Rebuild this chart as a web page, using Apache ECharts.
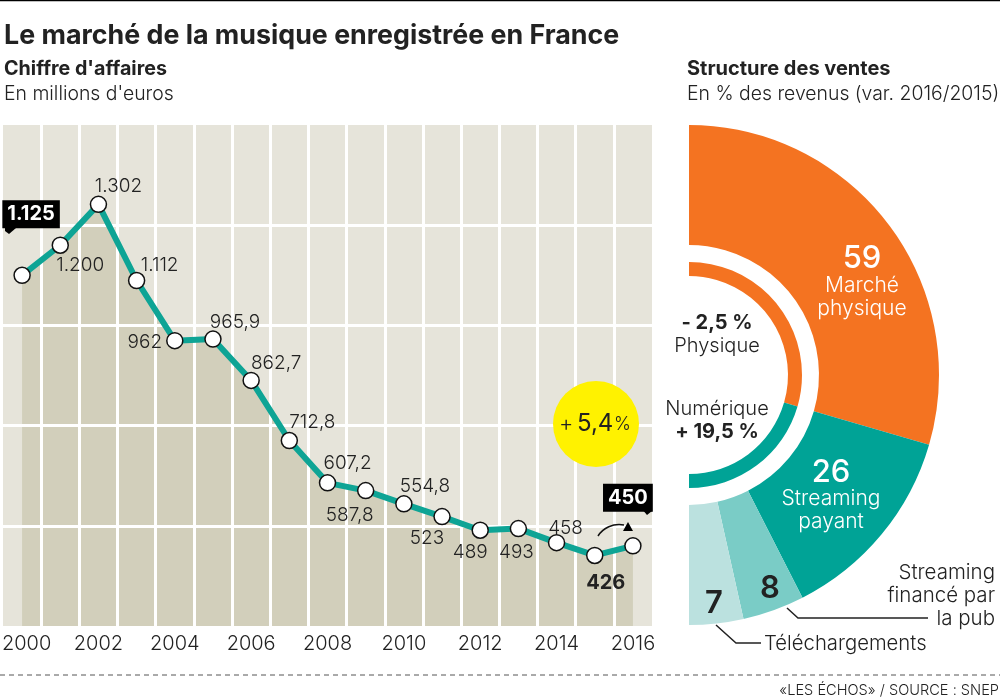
<!DOCTYPE html>
<html>
<head>
<meta charset="utf-8">
<title>Le marché de la musique enregistrée en France</title>
<script src="https://cdn.jsdelivr.net/npm/echarts@6/dist/echarts.min.js"></script>
<style>
html, body { margin: 0; padding: 0; background: #fff; }
#chart { width: 1000px; height: 700px; }
</style>
</head>
<body>
<div id="chart"></div>
<script>
var years = ["2000", "2001", "2002", "2003", "2004", "2005", "2006", "2007", "2008", "2009", "2010", "2011", "2012", "2013", "2014", "2015", "2016"];
var revenue = [1125, 1200, 1302, 1112, 962, 965.9, 862.7, 712.8, 607.2, 587.8, 554.8, 523, 489, 493, 458, 426, 450];
var revenueLabels = ["1.125", "1.200", "1.302", "1.112", "962", "965,9", "862,7", "712,8", "607,2", "587,8", "554,8", "523", "489", "493", "458", "426", "450"];
var salesNames = ["Marché physique", "Streaming payant", "Streaming financé par la pub", "Téléchargements"];
var salesShares = [59, 26, 8, 7];
var formatNames = ["Physique", "Numérique"];
var formatShares = [59, 41];

var FONT = "Inter, 'Noto Sans', sans-serif";
var INK = "#222222";
var TEAL = "#00a396";
var ORANGE = "#f47321";

// decalage de chaque etiquette par rapport au point
var labelOffsets = [[9, -61], [20, 20], [20, -18], [23, -15], [-30, 2], [22, -17], [25, -17], [23, -18], [20, -20],
    [-16, 25], [21, -18], [-15, 22], [-10, 22], [-2, 24], [9, -14], [11, 28], [-5, -48]];

var lineData = revenue.map(function(value, index) {
    var label = {
        show: true,
        position: "inside",
        offset: labelOffsets[index],
        formatter: revenueLabels[index],
        color: INK,
        fontFamily: FONT,
        fontSize: 19,
        fontWeight: 300
    };
    if (index == 0 || index == 16) {
        // etiquettes noires debut / fin
        label.color = "#fff";
        label.fontWeight = 700;
        label.fontSize = 20;
        label.backgroundColor = "#000";
        label.padding = [4, 5, 4, 5];
    }
    if (index == 15) {
        label.fontWeight = 700;
        label.fontSize = 20;
    }
    return { value: value, label: label };
});

function text(str, x, y, size, weight, color, align) {
    return {
        type: "text",
        z: 20,
        style: {
            text: str,
            x: x,
            y: y,
            fill: color || INK,
            font: (weight || 400) + " " + size + "px " + FONT,
            textAlign: align || "left",
            textVerticalAlign: "middle"
        }
    };
}

function line(points, width) {
    return {
        type: "polyline",
        z: 20,
        shape: { points: points },
        style: { stroke: "#222", lineWidth: width || 1.5, fill: null }
    };
}

function triangle(points) {
    return { type: "polygon", z: 20, shape: { points: points }, style: { fill: "#000" } };
}

var graphics = [
    { type: "line", shape: { x1: 0, y1: 0.5, x2: 1000, y2: 0.5 }, style: { stroke: "#000", lineWidth: 1.5 } },
    { type: "line", shape: { x1: 0, y1: 675, x2: 1000, y2: 675 }, style: { stroke: "#555", lineWidth: 1, lineDash: [5, 4] } },

    text("Le marché de la musique enregistrée en France", 4, 36, 26.8, 700),
    text("Chiffre d'affaires", 4, 69, 19.7, 700),
    text("En millions d'euros", 4, 94, 19.4, 300),
    text("Structure des ventes", 687, 69, 20, 700),
    text("En % des revenus (var. 2016/2015)", 687, 94, 19.4, 300),
    text("«LES ÉCHOS» / SOURCE : SNEP", 999, 691, 14.6, 300, INK, "right"),

    // pastille jaune
    { type: "circle", z: 15, shape: { cx: 596, cy: 424, r: 43 }, style: { fill: "#fff200" } },
    text("+", 559, 424, 22, 300),
    text("5,4", 577, 424, 24, 400),
    text("%", 614, 425, 18, 300),

    // pointes des etiquettes et fleche
    triangle([[5, 228], [16, 228], [9, 234], [5, 231]]),
    triangle([[641, 508], [652, 508], [652, 511], [647, 515]]),
    { type: "bezierCurve", z: 20, shape: { x1: 598, y1: 536, cpx1: 603, cpy1: 528, cpx2: 613, cpy2: 523, x2: 624, y2: 525 }, style: { stroke: "#111", lineWidth: 1.5, fill: null } },
    triangle([[623, 531], [633, 531], [628, 522]]),

    // textes du demi-cercle
    text(String(salesShares[0]), 862, 259, 31, 500, "#fff", "center"),
    text("Marché", 862, 286, 21, 300, "#fff", "center"),
    text("physique", 862, 309, 21, 300, "#fff", "center"),
    text(String(salesShares[1]), 831, 473, 31, 500, "#fff", "center"),
    text("Streaming", 831, 499, 21, 300, "#fff", "center"),
    text("payant", 831, 522, 21, 300, "#fff", "center"),
    text(String(salesShares[2]), 770, 589, 31, 600, INK, "center"),
    text(String(salesShares[3]), 714, 604, 31, 600, INK, "center"),

    text("- 2,5 %", 717, 323, 20, 700, INK, "center"),
    text(formatNames[0], 717, 346, 20, 300, INK, "center"),
    text(formatNames[1], 717, 409, 20, 300, INK, "center"),
    text("+ 19,5 %", 717, 432, 20, 700, INK, "center"),

    text("Streaming", 995, 573, 20.5, 300, INK, "right"),
    text("financé par", 995, 596, 20.5, 300, INK, "right"),
    text("la pub", 995, 619, 20.5, 300, INK, "right"),
    text("Téléchargements", 764, 644, 20.3, 300),

    line([[787, 608], [798, 618], [928, 618]]),
    line([[716, 625], [736, 643], [761, 643]])
];

var myChart = echarts.init(document.getElementById("chart"), null, { renderer: "canvas" });

var option = {
    backgroundColor: "#fff",
    animation: false,
    grid: {
        show: true,
        left: 3,
        top: 125,
        width: 649,
        height: 501,
        outerBoundsMode: "none",
        backgroundColor: "#e6e4da",
        borderWidth: 0
    },
    xAxis: {
        type: "category",
        data: years,
        z: 3,
        axisLine: { show: false },
        axisTick: { show: false },
        axisLabel: {
            interval: 1,
            margin: 8,
            color: INK,
            fontFamily: FONT,
            fontSize: 20,
            fontWeight: 300,
            // 2000 decale pour rester dans la page
            formatter: function(value, index) {
                return index == 0 ? "{first|" + value + "}" : value;
            },
            rich: {
                first: { padding: [0, 0, 0, 9], color: INK, fontFamily: FONT, fontSize: 20, fontWeight: 300 }
            }
        },
        splitLine: { show: true, interval: 0, showMinLine: false, showMaxLine: false, lineStyle: { color: "#fff", width: 3 } }
    },
    yAxis: {
        type: "value",
        min: 250,
        max: 1500,
        interval: 250,
        z: 3,
        axisLine: { show: false },
        axisTick: { show: false },
        axisLabel: { show: false },
        splitLine: { showMinLine: false, showMaxLine: false, lineStyle: { color: "#fff", width: 3 } }
    },
    series: [
        {
            // aplat sous la courbe, passe sous le quadrillage
            type: "line",
            z: 1,
            data: revenue,
            symbol: "none",
            silent: true,
            lineStyle: { width: 0 },
            areaStyle: { color: "#d2cfbb", opacity: 1 }
        },
        {
            name: "Chiffre d'affaires",
            type: "line",
            z: 5,
            data: lineData,
            symbol: "circle",
            symbolSize: 16,
            lineStyle: { color: "#0ea495", width: 6 },
            itemStyle: { color: "#fff", borderColor: "#111", borderWidth: 1.5 }
        },
        {
            name: "Structure des ventes",
            type: "pie",
            center: [689, 375],
            radius: [130, 250],
            startAngle: 90,
            endAngle: -90,
            silent: true,
            label: { show: false },
            labelLine: { show: false },
            data: salesNames.map(function(name, index) {
                return {
                    name: name,
                    value: salesShares[index],
                    itemStyle: { color: [ORANGE, TEAL, "#7accc6", "#bbe1df"][index] }
                };
            })
        },
        {
            name: "Évolution",
            type: "pie",
            center: [689, 375],
            radius: [99, 113],
            startAngle: 90,
            endAngle: -90,
            silent: true,
            label: { show: false },
            labelLine: { show: false },
            data: formatNames.map(function(name, index) {
                return {
                    name: name,
                    value: formatShares[index],
                    itemStyle: { color: [ORANGE, TEAL][index] }
                };
            })
        }
    ],
    graphic: graphics
};

myChart.setOption(option);
</script>
</body>
</html>
